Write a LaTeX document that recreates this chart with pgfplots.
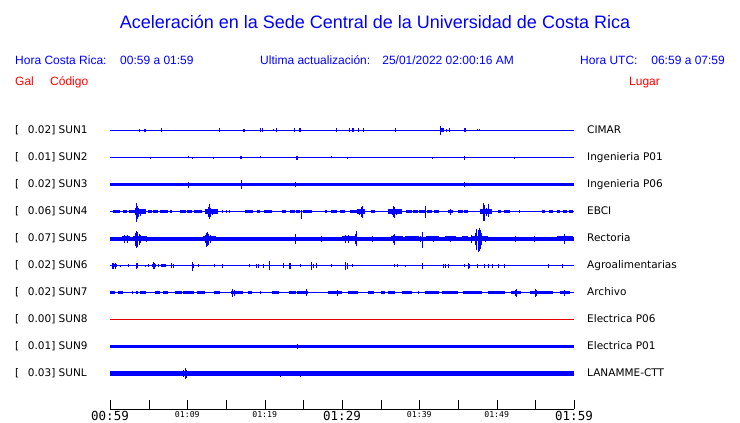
\documentclass[border=0pt]{standalone}
\usepackage{fontspec}
\setmainfont{DejaVu Sans}
\newfontfamily\hdr{Liberation Sans}
\newfontfamily\mono{DejaVu Sans Mono}
\usepackage{pgfplots}
\pgfplotsset{compat=1.18}
\definecolor{sblue}{RGB}{0,0,255}
\definecolor{hdrred}{RGB}{255,0,0}
\definecolor{deadred}{RGB}{230,0,0}

\pgfplotsset{
  spikes/.style={draw=none, mark=none, forget plot,
    error bars/.cd, y dir=both, y explicit, error mark=none,
    error bar style={draw=sblue, line width=1pt}},
  band/.style={draw=sblue, line width=#1, mark=none, unbounded coords=jump, forget plot},
}

\begin{document}
\begin{tikzpicture}
\path[use as bounding box] (0,0) rectangle (740pt,423pt);
\begin{axis}[
    at={(0,0)}, anchor=south west,
    scale only axis, width=740pt, height=423pt,
    xmin=-14.224, xmax=81.466, ymin=-0.5, ymax=422.5,
    y dir=reverse, hide axis, clip=false,
]
% ---- SUN1 ----
\addplot[band=1pt] coordinates {(0,130)(60,130)};
\addplot[spikes] table[x=t, y expr=130, y error plus=dn, y error minus=up] {
t up dn
3.79 1.5 1.5
4.50 1.3 1.3
4.62 1.3 1.3
5.34 0 1
6.72 2 1.5
14.18 2 1.5
17.24 1.5 1.5
17.36 1.5 1.5
19.44 2 2
19.70 2 2
21.16 1.5 0
21.51 2 1.5
23.84 2 1.5
24.55 2 1.5
24.68 2 1.5
29.27 2 1.5
30.99 2 1.5
31.36 2 2
31.48 2 2
32.11 2 1.5
32.76 2 1.5
36.90 2 1.5
42.80 4.5 4.5
42.92 2.5 2
43.04 2 2
43.16 2 2
43.49 1.5 1.5
43.84 2 1.5
45.85 2 2
45.97 2 2
47.50 1.5 0
47.72 1.5 0
48.92 0 1
};
% ---- SUN2 ----
\addplot[band=1pt] coordinates {(0,157)(60,157)};
\addplot[spikes] table[x=t, y expr=157, y error plus=dn, y error minus=up] {
t up dn
5.22 0 1.2
10.13 1.2 0
10.65 0 1.2
13.36 0 1.2
16.90 1.5 1.5
17.02 1.5 1.5
19.44 1.2 0
24.12 2 2
24.25 2 2
28.62 1.2 0
30.69 0 1.2
41.68 0 1.2
45.82 2 2
52.28 0 1.2
};
% ---- SUN3 ----
\addplot[band=3pt] coordinates {(0,184)(60,184)};
\addplot[spikes] table[x=t, y expr=184, y error plus=dn, y error minus=up] {
t up dn
10.13 3 3
16.98 4.5 4.5
24.05 2.7 2.7
45.82 2.7 2.7
};
% ---- SUN4 ----
\addplot[band=1pt] coordinates {(0,211)(60,211)};
\addplot[band=3pt] coordinates {
(0.45,211)(1.3,211)(1.5,nan)(1.7,211)(2.2,211)(2.3,nan)(2.4,211)(3.2,211)(4,nan)
(4.9,211)(5.4,211)(5.5,nan)(5.6,211)(6.2,211)(6.3,nan)
(6.5,211)(7.5,211)(7.6,nan)(7.7,211)(8.0,211)(8.5,nan)(9.05,211)(9.8,211)(9.9,nan)
(10.0,211)(10.6,211)(10.7,nan)(10.8,211)(11.85,211)(15,nan)
(17.45,211)(18.55,211)(18.8,nan)(19.0,211)(19.4,211)(19.6,nan)(19.9,211)(20.9,211)(21,nan)
(22.2,211)(22.8,211)(23,nan)(23.3,211)(23.9,211)(24,nan)(24.1,211)(24.6,211)(24.8,nan)
(25.0,211)(26.1,211)(27,nan)(27.8,211)(28.1,211)(28.3,nan)
(28.6,211)(29.3,211)(29.5,nan)(29.8,211)(30.4,211)(30.7,nan)(31.0,211)(31.9,211)(33,nan)
(33.8,211)(34.3,211)(36,nan)(38.3,211)(39.0,211)(39.1,nan)(39.2,211)(39.8,211)(39.9,nan)
(40.0,211)(40.7,211)(40.8,nan)(41.0,211)(41.6,211)(41.7,nan)(41.9,211)(42.5,211)(43,nan)
(43.7,211)(44.4,211)(44.7,nan)(45.0,211)(45.6,211)(45.7,nan)(45.8,211)(46.3,211)(47,nan)
(50.2,211)(50.6,211)(50.8,nan)
(51.0,211)(51.7,211)(53,nan)(55.8,211)(56.3,211)(56.5,nan)(56.8,211)(57.3,211)(57.5,nan)
(57.8,211)(58.2,211)(58.4,nan)(58.6,211)(59.1,211)(59.2,nan)(59.3,211)(59.9,211)};
\addplot[band=5pt] coordinates {
(3.2,211)(4.6,211)(5,nan)(12.3,211)(14.0,211)(20,nan)(32.0,211)(33.0,211)(34,nan)
(36.0,211)(37.7,211)(40,nan)(47.8,211)(49.4,211)};
\addplot[spikes] table[x=t, y expr=211, y error plus=dn, y error minus=up] {
t up dn
3.3 4 3
3.45 9 10
3.58 6 7
3.72 4 5
4.0 3 4
4.3 2.5 2.5
12.7 5 5
12.85 8 7
13.0 4 5
13.3 3 3
13.9 2.5 2
14.6 1.5 1.5
15.1 1.5 1.5
15.5 1.5 1.5
24.78 2 7
32.3 3 3
32.5 5 5
32.65 6 6
36.5 3 3
36.7 6 5
36.85 5 6
37.1 3 3
40.86 6 6
44.0 3 3
48.3 9 9
48.45 7 9
48.7 4 4
48.9 8 5
53.0 1.5 1.5
};
% ---- SUN5 ----
\addplot[band=4pt] coordinates {(0,238)(60,238)};
\addplot[band=5.5pt] coordinates {
(1.6,238)(2.6,238)(2.8,nan)(3.0,238)(4.6,238)(8,nan)(12.0,238)(13.7,238)(20,nan)
(30.0,238)(31.7,238)(33,nan)(36.4,238)(37.9,238)(38,nan)(38.2,238)(40.0,238)(40.4,nan)
(40.8,238)(42.5,238)(43,nan)(43.3,238)(44.7,238)(45,nan)(45.5,238)(46.3,238)(46.5,nan)
(46.8,238)(48.9,238)(52,nan)(57.8,238)(59.9,238)};
\addplot[spikes] table[x=t, y expr=238, y error plus=dn, y error minus=up] {
t up dn
1.9 3.5 4
2.3 4 4
3.3 6 7
3.45 8 9
3.6 7 8
3.75 5 6
3.95 4 4
4.75 3 3
12.3 4 4
12.45 6 8
12.6 7 7
12.8 5 6
13.05 4 4
23.95 5 5
27.4 3 3
30.5 4 4
30.9 4 4
31.7 5 5
31.85 8 7
34.0 3 3
36.6 4 4
36.8 5 6
40.2 3 3
40.35 7 9
41.8 3 3
44.0 3 3
46.8 4 4
47.25 6 6
47.45 10 11
47.6 9 13
47.75 11 12
47.9 9 10
48.1 6 6
48.6 3 3
52.4 3 3
54.95 3 3
58.8 5 5
};
% ---- SUN6 ----
\addplot[band=1pt] coordinates {(0,265)(60,265)};
\addplot[band=3pt] coordinates {
(0.25,265)(0.95,265)(1,nan)(5.45,265)(5.9,265)(6,nan)(6.2,265)(6.4,265)(6.45,nan)(6.55,265)(7.2,265)};
\addplot[spikes] table[x=t, y expr=265, y error plus=dn, y error minus=up] {
t up dn
0.3 3 3
0.5 3 3.5
0.7 3 3
1.3 1 1
2.4 1.5 1.5
3.45 3 3
3.6 2.5 2.5
4.55 1 1
5.0 1.5 1.5
5.6 3.5 3.5
5.75 3 3
8.0 2.5 2.5
8.15 2 2
9.9 1 0
10.65 4 5
10.8 2 2
11.5 1.5 1.5
13.5 1.5 1.5
14.55 2 2
18.0 1.5 1.5
19.0 2 2
19.2 2 2
19.9 2 2
20.6 5 4
22.4 2.5 2.5
23.2 3 3.5
23.35 3 3
24.65 1.5 1.5
26.1 4 4
26.3 2 2
26.65 2.5 2.5
28.7 1.5 1.5
30.5 4 4
30.65 3 3
31.35 1.5 1.5
36.85 1.5 1.5
37.2 1.5 1.5
38.15 1 1
40.4 3 3
43.1 2 2
43.4 2 2
43.8 2 2
45.8 1.5 1.5
46.3 3 3
46.5 2 2
47.5 2 2
48.4 2 2
48.9 2 2
49.4 2 2
50.3 2 2
51.0 2 2
56.7 2 2
58.5 2 2
};
% ---- SUN7 ----
\addplot[band=1pt] coordinates {(0,292)(60,292)};
\addplot[band=3pt] coordinates {
(0,292)(0.65,292)(0.8,nan)(1.08,292)(1.72,292)(2,nan)(2.8,292)(3.0,292)(3.1,nan)
(3.4,292)(3.6,292)(3.7,nan)(3.9,292)(4.7,292)(5,nan)(5.8,292)(6.5,292)(6.6,nan)
(6.9,292)(7.5,292)(8,nan)(8.4,292)(9.3,292)(9.4,nan)(9.5,292)(10.8,292)(11,nan)
(11.2,292)(12.3,292)(13,nan)(13.4,292)(14.2,292)(15,nan)(15.7,292)(17.2,292)(17.5,nan)
(17.9,292)(18.3,292)(19,nan)(20.9,292)(21.8,292)(22,nan)(23.1,292)(24.0,292)(24.1,nan)
(24.2,292)(25.6,292)(27,nan)(28.2,292)(30.0,292)(30.4,nan)(30.8,292)(32.1,292)(33,nan)
(33.4,292)(34.1,292)(34.5,nan)(35.1,292)(35.6,292)(35.7,nan)(35.9,292)(36.9,292)(37.3,nan)
(37.7,292)(39.0,292)(40,nan)(40.7,292)(42.5,292)(42.7,nan)(42.9,292)(45.0,292)(45.3,nan)
(45.7,292)(48.1,292)(48.5,nan)(48.9,292)(51.1,292)(51.5,nan)(51.9,292)(53.2,292)(53.8,nan)
(54.3,292)(57.3,292)(57.7,nan)(58.2,292)(59.5,292)};
\addplot[spikes] table[x=t, y expr=292, y error plus=dn, y error minus=up] {
t up dn
15.9 4 4
16.1 3 3
19.4 1.5 1.5
25.4 3.5 3.5
29.4 3 3
39.9 1.5 1.5
52.4 3 3
52.6 4 4
55.0 4 4
55.2 3 3
58.8 3 3
};
% ---- SUN8 ----
\addplot[draw=deadred, line width=1pt, mark=none, forget plot] coordinates {(0,319)(60,319)};
% ---- SUN9 ----
\addplot[band=3pt] coordinates {(0,346)(60,346)};
\addplot[spikes] table[x=t, y expr=346, y error plus=dn, y error minus=up] {
t up dn
24.22 2.5 2.5
};
% ---- SUNL ----
\addplot[band=5pt] coordinates {(0,373)(60,373)};
\addplot[spikes] table[x=t, y expr=373, y error plus=dn, y error minus=up] {
t up dn
9.5 3.5 3.5
9.7 5.5 5.5
9.85 4 4
22.0 0 3
24.57 3 3
};
\end{axis}

% header
\node[anchor=base, inner sep=0, text=sblue, font=\hdr\fontsize{18}{20}\selectfont]
  at (375pt,394.6pt) {Aceleración en la Sede Central de la Universidad de Costa Rica};
\begin{scope}[every node/.style={inner sep=0, text=sblue, font=\hdr\fontsize{12}{14}\selectfont}]
\node[anchor=base west] at (15pt,358.7pt) {Hora Costa Rica:};
\node[anchor=base west] at (120pt,358.7pt) {00:59 a 01:59};
\node[anchor=base west] at (260pt,358.7pt) {Ultima actualización:};
\node[anchor=base east] at (514pt,358.7pt) {25/01/2022 02:00:16 AM};
\node[anchor=base west] at (580pt,358.7pt) {Hora UTC:};
\node[anchor=base east] at (725pt,358.7pt) {06:59 a 07:59};
\node[anchor=base west, text=hdrred] at (15pt,337.7pt) {Gal};
\node[anchor=base west, text=hdrred] at (50pt,337.7pt) {Código};
\node[anchor=base west, text=hdrred] at (629pt,337.7pt) {Lugar};
\end{scope}

% trace labels
\begin{scope}[every node/.style={inner sep=0, anchor=base west, font=\fontsize{10.5}{12}\selectfont}]
\foreach \y/\g/\c in {130/0.02/SUN1, 157/0.01/SUN2, 184/0.02/SUN3, 211/0.06/SUN4,
    238/0.07/SUN5, 265/0.02/SUN6, 292/0.02/SUN7, 319/0.00/SUN8, 346/0.01/SUN9, 373/0.03/SUNL} {
  \node at (15pt,{(419.2-\y)*1pt}) {[};
  \node at (27.7pt,{(419.2-\y)*1pt}) {\g] \c};
}
\foreach \y/\l in {130/CIMAR, 157/Ingenieria P01, 184/Ingenieria P06, 211/EBCI,
    238/Rectoria, 265/Agroalimentarias, 292/Archivo, 319/Electrica P06, 346/Electrica P01, 373/LANAMME-CTT} {
  \node at (587pt,{(419.2-\y)*1pt}) {\l};
}
\end{scope}

% time ruler
\draw[line width=1pt] (110pt,13.5pt) -- (574pt,13.5pt);
\foreach \i in {0,...,12} {
  \draw[line width=1pt] ({(110.5+38.6667*\i)*1pt},13.5pt) -- ++(0,9.5pt);
}
\foreach \x/\t in {110/00:59, 342/01:29, 574/01:59} {
  \node[inner sep=0, font=\mono\fontsize{12.5}{14}\selectfont] at (\x pt,7pt) {\t};
}
\foreach \x/\t in {187.33/01:09, 264.67/01:19, 419.33/01:39, 496.67/01:49} {
  \node[inner sep=0, font=\mono\fontsize{8.2}{10}\selectfont] at (\x pt,8pt) {\t};
}
\end{tikzpicture}
\end{document}
